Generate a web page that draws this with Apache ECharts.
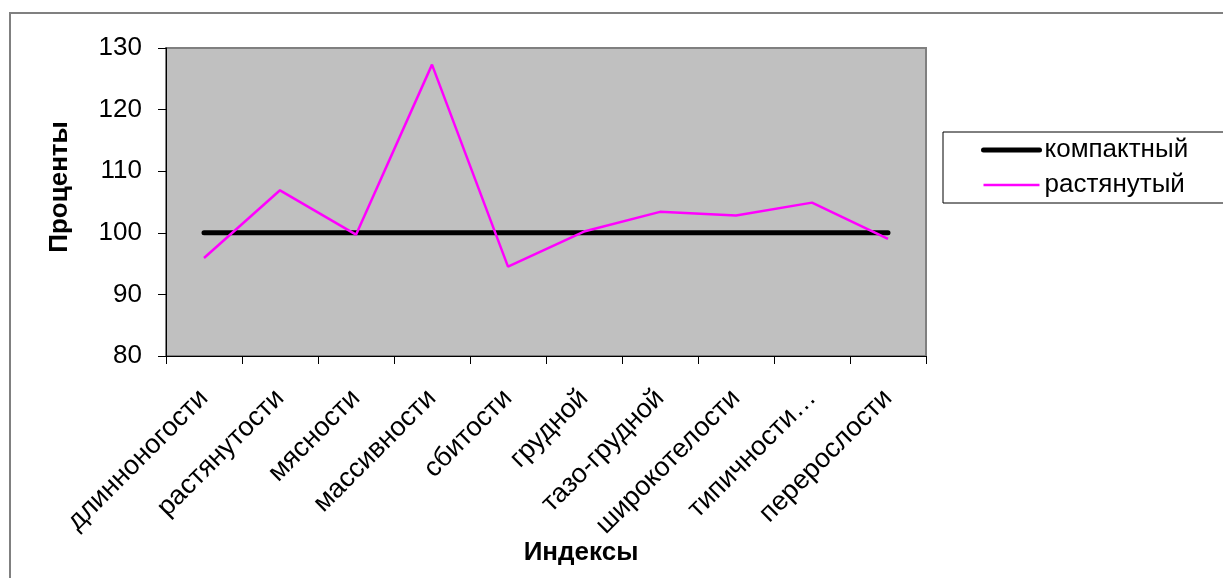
<!DOCTYPE html>
<html><head><meta charset="utf-8">
<script src="https://cdn.jsdelivr.net/npm/echarts@6/dist/echarts.min.js"></script>
<style>html,body{margin:0;padding:0;background:#fff}#c{width:1223px;height:578px}</style>
</head><body><div id="c"></div>
<script>
const categories = ['длинноногости','растянутости','мясности','массивности','сбитости','грудной','тазо-грудной','широкотелости','типичности…','перерослости'];
const compact = [100,100,100,100,100,100,100,100,100,100];
const stretched = [95.9,106.9,99.7,127.3,94.5,100.2,103.4,102.8,104.9,99.0];
const yTicks = {min:80, max:130, interval:10};
const font = 'Arial, "Liberation Sans", sans-serif';

const chart = echarts.init(document.getElementById('c'), null, {renderer:'canvas'});
chart.setOption({
  animation:false,
  backgroundColor:'#fff',
  graphic:[{type:'rect', shape:{x:10,y:13,width:1400,height:800}, style:{fill:'none',stroke:'#808080',lineWidth:2}, z:-1}],
  grid:{left:166,right:297,top:48,bottom:222,show:true,backgroundColor:'#C0C0C0',borderColor:'#808080',borderWidth:2},
  legend:{
    orient:'vertical', left:943, top:132,
    padding:[5,50,5,38], borderColor:'#000', borderWidth:1, backgroundColor:'#fff',
    itemWidth:56, itemHeight:14, itemGap:9,
    itemStyle:{opacity:0},
    textStyle:{fontFamily:font,fontSize:26,color:'#000',lineHeight:26},
    data:[
      {name:'компактный', lineStyle:{color:'#000', width:5, cap:'round'}},
      {name:'растянутый', lineStyle:{color:'#FF00FF', width:2.5}}
    ]
  },
  xAxis:{
    type:'category', data:categories, boundaryGap:true,
    name:'Индексы', nameLocation:'middle', nameGap:184, nameMoveOverlap:false,
    nameTextStyle:{fontFamily:font,fontSize:26,fontWeight:'bold',color:'#000',padding:[0,0,0,70]},
    axisLine:{lineStyle:{color:'#000',width:1}},
    axisTick:{show:true,length:8,inside:false,alignWithLabel:false,lineStyle:{color:'#000'}},
    axisLabel:{rotate:45,margin:38,interval:0,fontFamily:font,fontSize:27,color:'#000'},
    splitLine:{show:false}
  },
  yAxis:{
    type:'value', min:yTicks.min, max:yTicks.max, interval:yTicks.interval,
    name:'Проценты', nameLocation:'middle', nameGap:93, nameRotate:90, nameMoveOverlap:false,
    nameTextStyle:{fontFamily:font,fontSize:26,fontWeight:'bold',color:'#000',padding:[0,0,0,30]},
    axisLine:{show:true,lineStyle:{color:'#000',width:1}},
    axisTick:{show:true,length:8,lineStyle:{color:'#000'}},
    axisLabel:{fontFamily:font,fontSize:26,color:'#000',margin:24},
    splitLine:{show:false}
  },
  series:[
    {name:'компактный',type:'line',data:compact,symbol:'none',
     lineStyle:{color:'#000',width:5,cap:'round'},itemStyle:{color:'#000'}},
    {name:'растянутый',type:'line',data:stretched,symbol:'none',
     lineStyle:{color:'#FF00FF',width:2.5},itemStyle:{color:'#FF00FF'}}
  ]
});
</script></body></html>
